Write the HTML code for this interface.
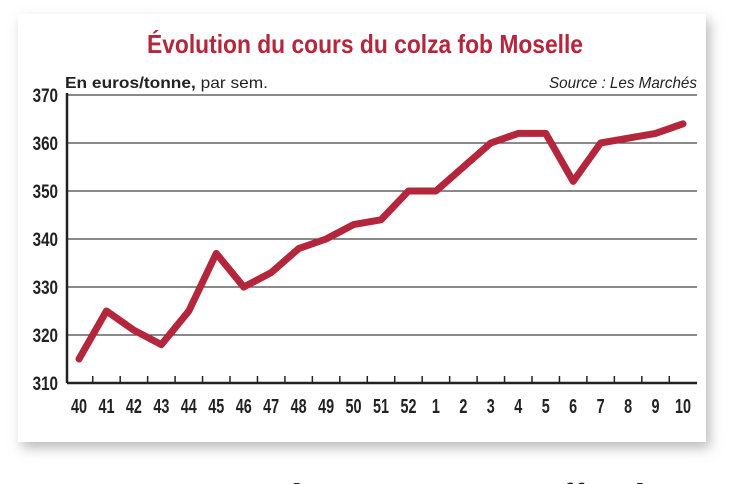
<!DOCTYPE html>
<html><head><meta charset="utf-8"><style>
html,body{margin:0;padding:0;background:#fff;}
svg{display:block;font-family:"Liberation Sans",sans-serif;}
</style></head><body>
<svg width="747" height="484" viewBox="0 0 747 484">
<defs><filter id="sh" x="-5%" y="-5%" width="110%" height="115%"><feGaussianBlur stdDeviation="6"/></filter></defs>
<rect x="22" y="20" width="688" height="428" fill="#bbb" filter="url(#sh)"/>
<rect x="18" y="14" width="688" height="428" fill="#fff"/>
<text x="365" y="53" text-anchor="middle" font-size="26" font-weight="bold" fill="#b3263c" textLength="436" lengthAdjust="spacingAndGlyphs">Évolution du cours du colza fob Moselle</text>
<text x="65" y="88" font-size="16" fill="#222" textLength="203" lengthAdjust="spacingAndGlyphs"><tspan font-weight="bold">En euros/tonne,</tspan> par sem.</text>
<text x="697" y="88" font-size="16" font-style="italic" fill="#222" text-anchor="end" textLength="148" lengthAdjust="spacingAndGlyphs">Source : Les Marchés</text>
<g id="grid"></g>
<g id="axes"></g>
<g id="series"></g>
<text x="60" y="508" font-family="Liberation Serif,serif" font-size="36" fill="#222">ainsi que toutes les prises en tout officiel</text>
</svg>
<script>
const categories=["40","41","42","43","44","45","46","47","48","49","50","51","52","1","2","3","4","5","6","7","8","9","10"];
const prices=[315,325,321,318,325,337,330,333,338,340,343,344,350,350,355,360,362,362,352,360,361,362,364];
const yTicks=[310,320,330,340,350,360,370];
const NS="http://www.w3.org/2000/svg";
const x0=79,dx=(683-79)/22,yBase=383,yScale=4.8,left=67,right=697;
const xs=i=>x0+i*dx, ys=v=>yBase-(v-310)*yScale;
function mk(t,a,p){const e=document.createElementNS(NS,t);for(const k in a)e.setAttribute(k,a[k]);p.appendChild(e);return e;}
const grid=document.getElementById('grid'),axes=document.getElementById('axes'),ser=document.getElementById('series');
yTicks.forEach(v=>{
  if(v>310){const l=mk('line',{x1:left,x2:right,y1:ys(v),y2:ys(v),stroke:'#444','stroke-width':1.3},grid);
  
  }
  const t=mk('text',{x:58,y:ys(v)+7,'text-anchor':'end','font-size':19,'font-weight':'bold',fill:'#222',transform:`translate(58,0) scale(0.8,1) translate(-58,0)`},axes);
  t.textContent=v;
  
  
});
const ya=mk('line',{x1:left,x2:left,y1:ys(370)-2,y2:yBase,stroke:'#222','stroke-width':2.5},axes);


const xa=mk('line',{x1:left,x2:right,y1:yBase,y2:yBase,stroke:'#222','stroke-width':2.5},axes);


categories.forEach((c,i)=>{
  const tx=xs(i)+dx/2;
  if(i<categories.length-1){const tk=mk('line',{x1:tx,x2:tx,y1:yBase-7,y2:yBase,stroke:'#222','stroke-width':1.5},axes);
  
  }
  const t=mk('text',{x:xs(i),y:413,'text-anchor':'middle','font-size':20,'font-weight':'bold',fill:'#222',transform:`translate(${xs(i)},0) scale(0.72,1) translate(${-xs(i)},0)`},axes);
  t.textContent=c;
  
  
});
const pl=mk('polyline',{points:prices.map((v,i)=>xs(i)+','+ys(v)).join(' '),fill:'none',stroke:'#b3263c','stroke-width':7,'stroke-linejoin':'round','stroke-linecap':'round'},ser);


</script>
</body></html>
